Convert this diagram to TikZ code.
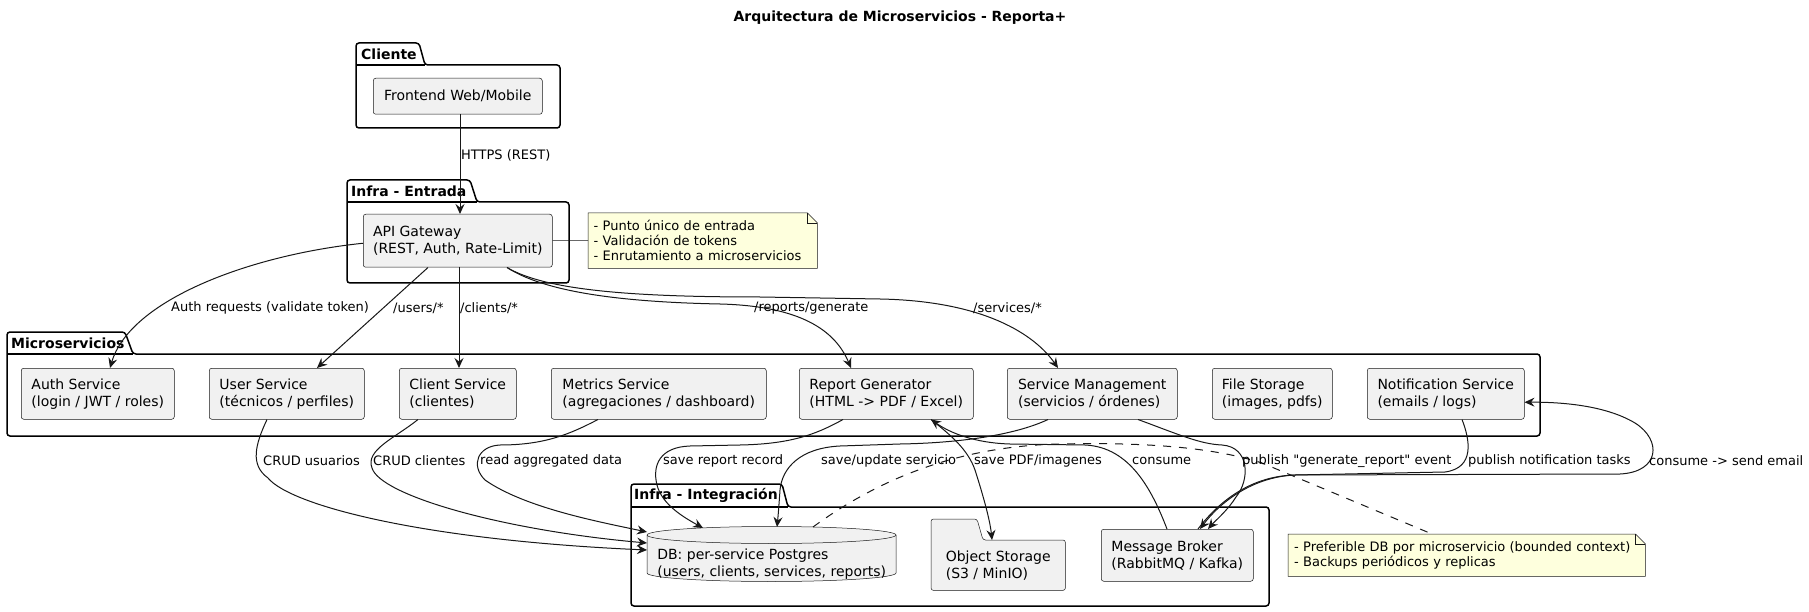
\documentclass[tikz,border=0pt]{standalone}
\usepackage{fontspec}
\setmainfont{DejaVu Sans}
\newfontfamily\qfont{DejaVu Sans}
\usetikzlibrary{arrows.meta,backgrounds}
\definecolor{lc}{HTML}{181818}
\definecolor{boxfill}{HTML}{F1F1F1}
\definecolor{notefill}{HTML}{FEFFDD}
\newcommand{\fsbox}{\fontsize{14}{17}\selectfont}
\newcommand{\fslab}{\fontsize{13}{15}\selectfont}
\begin{document}
\begin{tikzpicture}[x=1pt,y=-1pt,
  arr/.style={draw=lc,line width=1pt,-{Stealth[length=10pt,width=9pt,inset=3.5pt]}},
  conn/.style={draw=lc,line width=0.5pt},
  dashconn/.style={draw=lc,line width=1pt,dash pattern=on 8pt off 8pt},
  box/.style={draw=lc,line width=0.5pt,fill=boxfill,rounded corners=2.5pt,anchor=north west,align=left,inner sep=0pt,font=\fsbox},
  plainbox/.style={anchor=north west,align=left,inner sep=0pt,font=\fsbox},
  shapedraw/.style={draw=lc,line width=0.5pt,fill=boxfill,rounded corners=2.5pt},
  pkg/.style={draw=black,line width=1.5pt,rounded corners=3pt},
  pkgline/.style={draw=black,line width=1.5pt},
  pkgname/.style={anchor=west,inner sep=0pt,font=\bfseries\fsbox},
  elabel/.style={anchor=west,inner sep=0pt,font=\fslab},
  notebox/.style={anchor=north west,align=left,inner ysep=0pt,font=\fslab},
  notedraw/.style={draw=lc,line width=0.5pt,fill=notefill},
]
\useasboundingbox (0,0) rectangle (1809,612);
\begin{pgfonlayer}{background}
\fill[white] (0,0) rectangle (1809,612);
\end{pgfonlayer}

% title
\node[font=\bfseries\fsbox,inner sep=0pt] (title) at (900,18) {Arquitectura de Microservicios - Reporta+};

% packages
\draw[pkg] (356,128) -- (356,43) -- (419,43) -- (425,65) -- (560,65) -- (560,128) -- cycle;
\draw[pkgline] (356,65) -- (425,65);
\node[pkgname] (pcli) at (361,54) {Cliente};

\draw[pkg] (347,283) -- (347,180) -- (470,180) -- (477,202) -- (569,202) -- (569,283) -- cycle;
\draw[pkgline] (347,202) -- (477,202);
\node[pkgname] (pent) at (351,191) {Infra - Entrada};

\draw[pkg] (7,436) -- (7,332) -- (125,332) -- (133,354) -- (1540,354) -- (1540,436) -- cycle;
\draw[pkgline] (7,354) -- (133,354);
\node[pkgname] (pmic) at (11,343) {Microservicios};

\draw[pkg] (631,606) -- (631,484) -- (782,484) -- (788,507) -- (1269,507) -- (1269,606) -- cycle;
\draw[pkgline] (631,507) -- (788,507);
\node[pkgname] (pint) at (634,495) {Infra - Integración};

% boxes
\node[box,minimum width=169pt,minimum height=36pt] (front) at (373,78) {Frontend Web/Mobile};
\node[box,minimum width=189pt,minimum height=53pt] (api) at (363,214) {API Gateway\\(REST, Auth, Rate-Limit)};
\node[box,minimum width=153pt,minimum height=51pt] (auth) at (21,368) {Auth Service\\(login / JWT / roles)};
\node[box,minimum width=155pt,minimum height=51pt] (user) at (209,368) {User Service\\(técnicos / perfiles)};
\node[box,minimum width=117pt,minimum height=51pt] (client) at (399,368) {Client Service\\(clientes)};
\node[box,minimum width=215pt,minimum height=51pt] (metrics) at (551,368) {Metrics Service\\(agregaciones / dashboard)};
\node[box,minimum width=174pt,minimum height=51pt] (report) at (799,368) {Report Generator\\(HTML -> PDF / Excel)};
\node[box,minimum width=170pt,minimum height=51pt] (sm) at (1007,368) {Service Management\\(servicios / órdenes)};
\node[box,minimum width=120pt,minimum height=51pt] (file) at (1212,368) {File Storage\\(images, pdfs)};
\node[box,minimum width=157pt,minimum height=51pt] (notif) at (1367,368) {Notification Service\\(emails / logs)};
\node[box,minimum width=152pt,minimum height=52pt] (mb) at (1101,529) {Message Broker\\(RabbitMQ / Kafka)};
\node[plainbox,minimum width=134pt,minimum height=50pt] (os) at (931,540) {Object Storage\\(S3 / MinIO)};
\node[plainbox,minimum width=249pt,minimum height=33pt] (db) at (647,547) {DB: per-service Postgres\\(users, clients, services, reports)};

% notes
\node[notebox,text width=218pt,inner xsep=5.5pt,minimum height=55pt] (n1) at (588,213) {- Punto único de entrada\\- Validación de tokens\\- Enrutamiento a microservicios};
\node[notebox,text width=345pt,inner xsep=6pt,minimum height=42pt] (n2) at (1288,534) {- Preferible DB por microservicio (bounded context)\\- Backups periódicos y replicas};

\begin{pgfonlayer}{background}
% note outlines
\path[notedraw] (n1.north west) -- ([xshift=-10pt]n1.north east) -- ([yshift=-10pt]n1.north east) -- (n1.south east) -- (n1.south west) -- cycle;
\draw[conn] ([xshift=-10pt]n1.north east) -- ([xshift=-10pt,yshift=-10pt]n1.north east) -- ([yshift=-10pt]n1.north east);
\path[notedraw] (n2.north west) -- ([xshift=-10pt]n2.north east) -- ([yshift=-10pt]n2.north east) -- (n2.south east) -- (n2.south west) -- cycle;
\draw[conn] ([xshift=-10pt]n2.north east) -- ([xshift=-10pt,yshift=-10pt]n2.north east) -- ([yshift=-10pt]n2.north east);
% folder
\path[shapedraw] (os.south west) -- (931,519) -- (977,519) -- (983,540) -- (os.north east) -- (os.south east) -- cycle;
% cylinder
\path[shapedraw,rounded corners=0pt] (647,535) -- (647,573) .. controls (647,577.7) and (702.7,581.5) .. (771.5,581.5) .. controls (840.3,581.5) and (896,577.7) .. (896,573) -- (896,535) .. controls (896,530.3) and (840.3,526.5) .. (771.5,526.5) .. controls (702.7,526.5) and (647,530.3) .. (647,535) -- cycle;
\draw[conn] (647,535) .. controls (647,539.7) and (702.7,543.5) .. (771.5,543.5) .. controls (840.3,543.5) and (896,539.7) .. (896,535);
\end{pgfonlayer}

% connectors
\draw[arr] ([xshift=87pt]front.south west) -- ([xshift=97pt]api.north west);
\draw[conn] (api.east) -- (n1.west);
\draw[arr] ([yshift=-2.5pt]api.west) .. controls (250,255) and (130,300) .. ([xshift=89pt]auth.north west);
\draw[arr] ([xshift=65pt]api.south west) -- ([xshift=108pt]user.north west);
\draw[arr] ([xshift=96pt]api.south west) -- ([xshift=60pt]client.north west);
\draw[arr] ([xshift=144pt]api.south west) .. controls (545,292) and (620,302) .. (720,304) .. controls (800,306) and (835,330) .. ([xshift=52pt]report.north west);
\draw[arr] ([xshift=144pt]api.south west) .. controls (545,290) and (630,297) .. (760,297) -- (880,299) .. controls (985,301) and (1035,335) .. ([xshift=51pt]sm.north west);

\draw[arr] ([xshift=58pt]user.south west) .. controls (255,445) and (250,465) .. (268,478) .. controls (290,505) and (420,540) .. ([yshift=-3pt]db.north west);
\draw[arr] ([xshift=19pt]client.south west) .. controls (395,438) and (365,450) .. (372,468) .. controls (380,495) and (500,530) .. ([yshift=4pt]db.north west);
\draw[arr] ([xshift=47pt]metrics.south west) .. controls (570,434) and (545,445) .. (500,445) .. controls (478,446) and (470,465) .. (485,480) .. controls (525,508) and (600,522) .. ([yshift=15pt]db.north west);
\draw[arr] ([xshift=44pt]report.south west) .. controls (815,435) and (790,444) .. (740,445) -- (690,446) .. controls (660,447) and (652,465) .. (657,485) .. controls (662,505) and (685,518) .. ([xshift=56pt,yshift=19pt]db.north west);
\draw[arr] ([xshift=41pt]sm.south west) .. controls (1015,435) and (960,443) .. (900,444) -- (840,446) .. controls (800,448) and (782,468) .. (780,490) .. controls (779,505) and (778,517) .. ([xshift=130pt,yshift=20pt]db.north west);
\draw[arr] ([xshift=132pt]report.south west) .. controls (952,436) and (968,450) .. (975,470) .. controls (983,495) and (990,520) .. ([xshift=61pt]os.north west);
\draw[arr] ([xshift=66pt]mb.north west) .. controls (1152,490) and (1130,447) .. (1085,445) -- (1010,444) .. controls (975,443) and (950,433) .. ([xshift=132pt]report.south west);
\draw[arr] ([xshift=131pt]sm.south west) .. controls (1180,435) and (1200,444) .. (1222,445) .. controls (1250,447) and (1250,480) .. (1236,497) .. controls (1228,510) and (1215,521) .. ([xshift=107pt]mb.north west);
\draw[arr] ([xshift=95pt]notif.south west) .. controls (1470,440) and (1475,468) .. (1445,472) -- (1295,475) .. controls (1250,477) and (1218,505) .. ([xshift=99pt]mb.north west);
\draw[arr] ([xshift=97pt]mb.north west) .. controls (1220,500) and (1252,476) .. (1295,475) -- (1620,474) .. controls (1660,472) and (1662,440) .. (1635,423) .. controls (1605,405) and (1560,402) .. ([yshift=-8.5pt]notif.east);
\draw[dashconn] ([xshift=166pt,yshift=20pt]db.north west) .. controls (880,478) and (960,446) .. (1060,444) .. controls (1150,442) and (1215,448) .. (1262,463) -- ([xshift=144pt]n2.north west);

% edge labels
\node[elabel] (l0) at (461,155) {HTTPS (REST)};
\node[elabel] (l1) at (171,308) {Auth requests (validate token)};
\node[elabel] (l2) at (393,308) {/users/*};
\node[elabel] (l3) at (460,308) {/clients/*};
\node[elabel] (l4) at (754,308) {/reports/generate};
\node[elabel] (l5) at (973,308) {/services/*};
\node[elabel] (l6) at (263,461) {CRUD usuarios};
\node[elabel] (l7) at (373,461) {CRUD clientes};
\node[elabel] (l8) at (480,461) {read aggregated data};
\node[elabel] (l9) at (663,461) {save report record};
\node[elabel] (l10) at (821,461) {save/update servicio};
\node[elabel] (l11) at (974,461) {save PDF/imagenes};
\node[elabel] (l12) at (1132,461) {consume};
\node[elabel] (l13) at (1242,461) {{\qfont publish "generate\_report" event}};
\node[elabel] (l14) at (1468,461) {publish notification tasks};
\node[elabel] (l15) at (1649,461) {consume -> send email};
\end{tikzpicture}
\end{document}
